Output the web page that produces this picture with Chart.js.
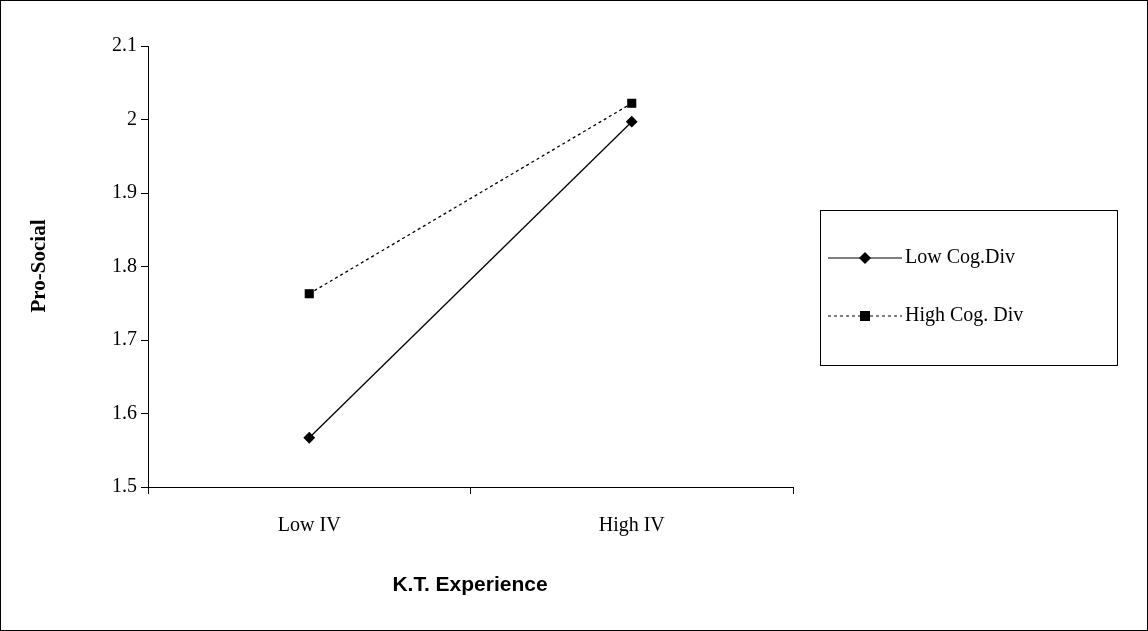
<!DOCTYPE html>
<html><head><meta charset="utf-8">
<script src="https://cdn.jsdelivr.net/npm/chart.js@4/dist/chart.umd.min.js"></script>
<style>body{margin:0;background:#fff}#wrap{width:1148px;height:631px}</style>
</head><body><div id="wrap"><canvas id="c" width="1148" height="631"></canvas></div>
<script>
const categories = ["Low IV", "High IV"];
const lowCogDiv = [1.567, 1.997];
const highCogDiv = [1.763, 2.022];
const yTicks = [1.5, 1.6, 1.7, 1.8, 1.9, 2, 2.1];

const decor = {
  id: "decor",
  afterDraw(chart) {
    const ctx = chart.ctx;
    ctx.save();
    ctx.strokeStyle = "#000"; ctx.lineWidth = 1;
    ctx.strokeRect(0.5, 0.5, 1147, 630);
    ctx.strokeRect(820.5, 210.5, 297, 155);
    ctx.fillStyle = "#000";
    ctx.textAlign = "center"; ctx.textBaseline = "middle";
    ctx.font = "bold 21px 'Liberation Sans'";
    ctx.fillText("K.T. Experience", 470, 585);
    ctx.save();
    ctx.translate(40, 266); ctx.rotate(-Math.PI / 2);
    ctx.font = "bold 21px 'Liberation Serif'";
    ctx.fillText("Pro-Social", 0, 0);
    ctx.restore();
    ctx.textAlign = "left";
    const rows = [
      { y: 258, text: "Low Cog.Div", dash: [], mark: "d" },
      { y: 316, text: "High Cog. Div", dash: [3, 3], mark: "s" }
    ];
    rows.forEach(r => {
      ctx.setLineDash(r.dash);
      ctx.beginPath(); ctx.moveTo(828, r.y); ctx.lineTo(902, r.y); ctx.stroke();
      ctx.setLineDash([]);
      if (r.mark === "d") {
        ctx.beginPath(); ctx.moveTo(865, r.y - 6); ctx.lineTo(871, r.y); ctx.lineTo(865, r.y + 6); ctx.lineTo(859, r.y); ctx.fill();
      } else {
        ctx.fillRect(860, r.y - 5, 10, 10);
      }
      ctx.font = "20px 'Liberation Serif'";
      ctx.fillText(r.text, 905, r.y);
    });
    ctx.restore();
  }
};

new Chart(document.getElementById("c"), {
  type: "line",
  data: {
    labels: categories,
    datasets: [
      { label: "Low Cog.Div", data: lowCogDiv, borderColor: "#000", backgroundColor: "#000", borderWidth: 1.3,
        pointStyle: "rectRot", pointRadius: 5, pointHoverRadius: 5 },
      { label: "High Cog. Div", data: highCogDiv, borderColor: "#000", backgroundColor: "#000", borderWidth: 1.3,
        borderDash: [3, 3], pointStyle: "rect", pointRadius: 5.5, pointHoverRadius: 5.5 }
    ]
  },
  options: {
    responsive: false, animation: false,
    layout: { padding: { top: 46, right: 355, left: 0, bottom: 0 } },
    plugins: { legend: { display: false }, tooltip: { enabled: false } },
    scales: {
      x: {
        offset: true,
        grid: { offset: true, drawOnChartArea: false, color: "#000", tickLength: 7 },
        border: { color: "#000" },
        ticks: { color: "#000", font: { family: "'Liberation Serif'", size: 20 }, padding: 20 },
        afterFit(s) { s.height = 144; }
      },
      y: {
        min: 1.5, max: 2.1,
        afterBuildTicks(s) { s.ticks = yTicks.map(v => ({ value: v })); },
        grid: { drawOnChartArea: false, color: "#000", tickLength: 7 },
        border: { color: "#000" },
        ticks: { color: "#000", font: { family: "'Liberation Serif'", size: 20 }, padding: 4,
          callback: v => String(v) },
        afterFit(s) { s.width = 148; }
      }
    }
  },
  plugins: [decor]
});
</script></body></html>
